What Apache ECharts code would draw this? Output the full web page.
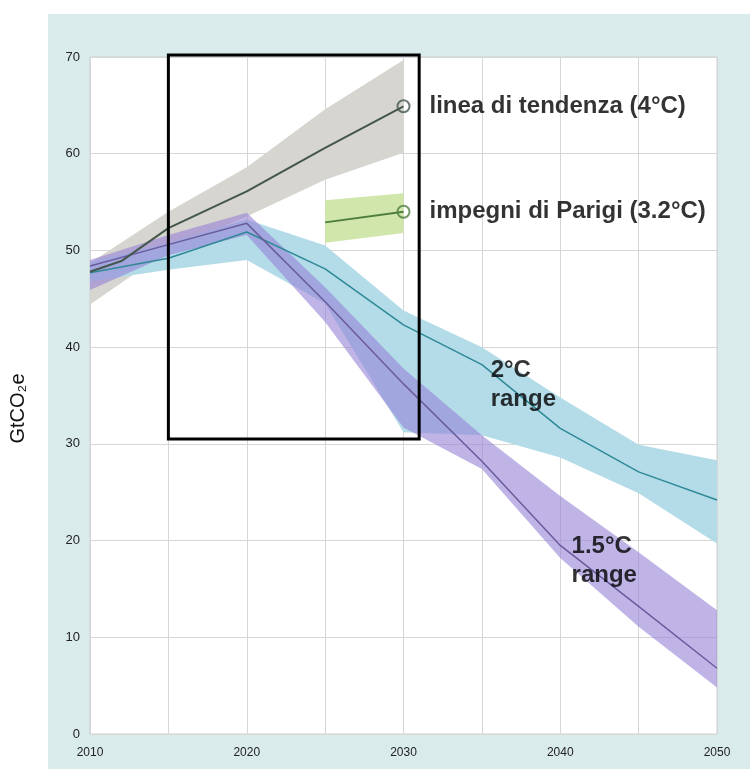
<!DOCTYPE html>
<html>
<head>
<meta charset="utf-8">
<script src="https://cdn.jsdelivr.net/npm/echarts@6/dist/echarts.min.js"></script>
<style>
html,body{margin:0;padding:0;background:#fff;}
#chart{width:750px;height:769px;}
</style>
</head>
<body>
<div id="chart"></div>
<script>
// ---- Data ----
const xTicks = [2010, 2020, 2030, 2040, 2050];
const yTicks = [0, 10, 20, 30, 40, 50, 60, 70];

// 4°C trend line
const trendYears = [2010, 2012, 2015, 2020, 2025, 2030];
const trendValues = [47.8, 48.9, 52.3, 56.1, 60.6, 64.9];
const trendBandYears = [2010, 2015, 2020, 2025, 2030];
const trendUpper = [48.7, 54.0, 58.6, 64.6, 69.7];
const trendLower = [44.4, 50.0, 53.5, 57.3, 60.1];

// Paris pledges 3.2°C
const parisYears = [2025, 2030];
const parisValues = [52.9, 54.0];
const parisUpper = [55.2, 55.9];
const parisLower = [50.8, 51.8];

// 2°C range
const rangeYears = [2010, 2015, 2020, 2025, 2030, 2035, 2040, 2045, 2050];
const twoValues = [47.7, 49.2, 51.9, 48.1, 42.3, 38.2, 31.6, 27.1, 24.2];
const twoUpper = [48.8, 50.8, 53.2, 50.5, 43.8, 40.0, 34.8, 29.9, 28.3];
const twoLower = [46.8, 48.0, 49.0, 44.5, 31.2, 30.9, 28.6, 24.9, 19.7];

// 1.5°C range
const oneFiveValues = [48.4, 50.6, 52.8, 44.7, 36.2, 28.2, 19.5, 13.2, 6.8];
const oneFiveUpper = [49.0, 51.6, 53.9, 46.2, 37.8, 30.9, 24.6, 18.8, 12.8];
const oneFiveLower = [45.9, 49.5, 51.6, 42.6, 31.7, 27.4, 18.2, 11.1, 4.8];

// highlight box (years / GtCO2e)
const boxYears = [2015, 2031];
const boxValues = [30.5, 70.2];

const labels = {
  trend: 'linea di tendenza (4°C)',
  paris: 'impegni di Parigi (3.2°C)',
  two: '2°C\nrange',
  oneFive: '1.5°C\nrange',
  yName: 'GtCO₂e'
};

// ---- helpers ----
function pairs(xs, ys) { return xs.map((x, i) => [x, ys[i]]); }

function band(xs, lo, hi, fill, z) {
  return {
    type: 'custom', silent: true, z: z, data: [[xs[0], lo[0]]],
    renderItem: function (params, api) {
      const pts = [];
      for (let i = 0; i < xs.length; i++) pts.push(api.coord([xs[i], hi[i]]));
      for (let i = xs.length - 1; i >= 0; i--) pts.push(api.coord([xs[i], lo[i]]));
      return { type: 'polygon', shape: { points: pts }, style: { fill: fill } };
    }
  };
}

const textFont = 'Liberation Sans, Arial, Helvetica, sans-serif';
const bigLabel = { fontFamily: textFont, fontSize: 24, fontWeight: 'bold', color: '#000000' };

const chart = echarts.init(document.getElementById('chart'), null, { renderer: 'canvas' });

const option = {
  animation: false,
  backgroundColor: '#ffffff',
  graphic: [{
    type: 'rect', z: -10, silent: true,
    shape: { x: 48, y: 14, width: 702, height: 755 },
    style: { fill: '#d9eceb' }
  }],
  grid: {
    left: 88, right: 33, top: 57, bottom: 35,
    show: true, backgroundColor: '#ffffff', borderColor: '#cfcfcf', borderWidth: 1
  },
  xAxis: {
    type: 'value', min: 2010, max: 2050, interval: 5,
    axisLine: { show: false }, axisTick: { show: false },
    splitLine: { show: true, lineStyle: { color: '#d6d6d6', width: 1 } },
    axisLabel: {
      margin: 13, color: '#222', fontSize: 12, fontFamily: textFont,
      formatter: v => (xTicks.indexOf(v) >= 0 ? String(v) : '')
    }
  },
  yAxis: {
    type: 'value', min: 0, max: 70, interval: 10,
    axisLine: { show: false }, axisTick: { show: false },
    splitLine: { show: true, lineStyle: { color: '#d6d6d6', width: 1 } },
    axisLabel: {
      margin: 10, color: '#222', fontSize: 13, fontFamily: textFont,
      formatter: v => (yTicks.indexOf(v) >= 0 ? String(v) : '')
    },
    name: labels.yName, nameLocation: 'middle', nameRotate: 90, nameGap: 62,
    nameTextStyle: { fontSize: 20, color: '#111', fontFamily: textFont, padding: [0, 26, 0, 0] }
  },
  series: [
    band(trendBandYears, trendLower, trendUpper, '#d7d5d0', 1),
    band(parisYears, parisLower, parisUpper, '#d0e6aa', 1),
    band(rangeYears, twoLower, twoUpper, '#b3dbe8', 2),
    band(rangeYears, oneFiveLower, oneFiveUpper, 'rgba(150,130,215,0.6)', 3),
    {
      type: 'line', data: pairs(rangeYears, twoValues), symbol: 'none', z: 5,
      lineStyle: { color: '#2f8996', width: 1.5 }
    },
    {
      type: 'line', data: pairs(rangeYears, oneFiveValues), symbol: 'none', z: 5,
      lineStyle: { color: '#6a5c9c', width: 1.5 }
    },
    {
      type: 'line', data: pairs(trendYears, trendValues), symbol: 'none', z: 6,
      lineStyle: { color: '#43574b', width: 2 }
    },
    {
      type: 'line', data: pairs(parisYears, parisValues), symbol: 'none', z: 6,
      lineStyle: { color: '#4d7e3e', width: 2 }
    },
    {
      type: 'scatter', z: 7, symbol: 'circle', symbolSize: 12,
      data: [[trendYears[trendYears.length - 1], trendValues[trendValues.length - 1]]],
      itemStyle: { color: 'rgba(0,0,0,0)', borderColor: '#43574b', borderWidth: 2 },
      label: { show: true, position: 'right', distance: 19, formatter: labels.trend, ...bigLabel }
    },
    {
      type: 'scatter', z: 7, symbol: 'circle', symbolSize: 12,
      data: [[parisYears[parisYears.length - 1], parisValues[parisValues.length - 1]]],
      itemStyle: { color: 'rgba(0,0,0,0)', borderColor: '#4d7e3e', borderWidth: 2 },
      label: { show: true, position: 'right', distance: 19, formatter: labels.paris, ...bigLabel }
    },
    {
      type: 'scatter', z: 8, symbolSize: 0, silent: true,
      data: [[2035.56, 36.1]],
      label: { show: true, position: 'right', distance: 0, formatter: labels.two, lineHeight: 29, ...bigLabel }
    },
    {
      type: 'scatter', z: 8, symbolSize: 0, silent: true,
      data: [[2040.72, 17.9]],
      label: { show: true, position: 'right', distance: 0, formatter: labels.oneFive, lineHeight: 29, ...bigLabel }
    },
    {
      type: 'custom', z: 9, silent: true, clip: false,
      data: [[boxYears[0], boxValues[0]]],
      renderItem: function (params, api) {
        const p0 = api.coord([boxYears[0], boxValues[1]]);
        const p1 = api.coord([boxYears[1], boxValues[0]]);
        return {
          type: 'rect',
          shape: { x: p0[0], y: p0[1], width: p1[0] - p0[0], height: p1[1] - p0[1] },
          style: { fill: 'none', stroke: '#000', lineWidth: 3 }
        };
      }
    }
  ]
};
chart.setOption(option);
</script>
</body>
</html>
